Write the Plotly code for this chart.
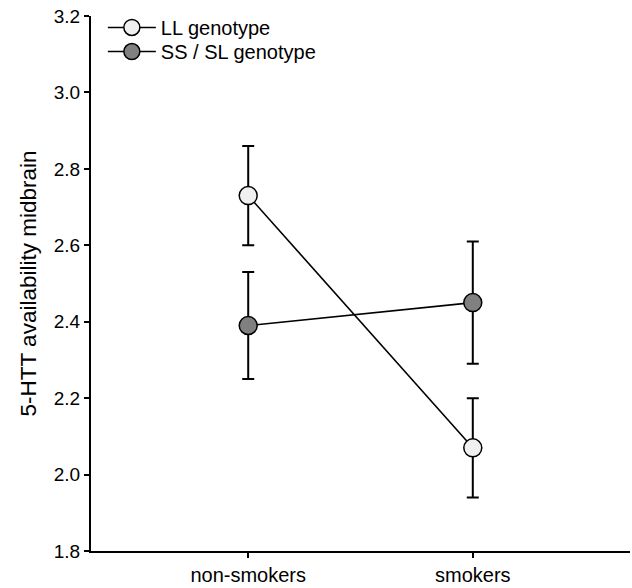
import plotly.graph_objects as go

categories = ["non-smokers", "smokers"]
ll_values = [2.73, 2.07]
ll_err = [0.13, 0.13]
ss_values = [2.39, 2.45]
ss_err = [0.14, 0.16]
y_ticks = [1.8, 2.0, 2.2, 2.4, 2.6, 2.8, 3.0, 3.2]
series_names = ["LL genotype", "SS / SL genotype"]

x_pos = list(range(len(categories)))

fig = go.Figure()
for name, vals, errs, fill, leg in [
    (series_names[0], ll_values, ll_err, "#f0f0f0", "legend"),
    (series_names[1], ss_values, ss_err, "#808080", "legend2"),
]:
    fig.add_trace(go.Scatter(
        x=x_pos, y=vals, name=name, mode="lines+markers", legend=leg,
        line=dict(color="black", width=1.6),
        marker=dict(size=18, color=fill, line=dict(color="black", width=1.5)),
        error_y=dict(type="data", array=errs, visible=True, color="black",
                     thickness=2, width=6),
    ))

leg_common = dict(xanchor="left", yanchor="top", bgcolor="rgba(0,0,0,0)",
                  font=dict(size=20), itemwidth=48)

fig.update_layout(
    width=632, height=588,
    margin=dict(l=91, r=2, t=16, b=37),
    paper_bgcolor="white", plot_bgcolor="white",
    font=dict(family="Arial, Liberation Sans, sans-serif", size=19, color="black"),
    showlegend=True,
    legend=dict(x=0.022, y=1.015, **leg_common),
    legend2=dict(x=0.022, y=0.970, **leg_common),
    xaxis=dict(range=[-0.7, 1.7], tickvals=x_pos, ticktext=categories,
               tickfont=dict(size=20),
               showline=True, linecolor="black", linewidth=2,
               ticks="outside", ticklen=5, tickwidth=2, tickcolor="black",
               showgrid=False, zeroline=False, automargin=False),
    yaxis=dict(range=[1.8, 3.2], tickvals=y_ticks,
               tickformat=".1f",
               showline=True, linecolor="black", linewidth=2,
               ticks="outside", ticklen=5, tickwidth=2, tickcolor="black",
               showgrid=False, zeroline=False, automargin=False,
               title=dict(text="5-HTT availability midbrain", font=dict(size=22.5), standoff=11)),
)

fig.write_html("out.html", config={"displayModeBar": False},
               post_script="document.body.style.margin='0';")
